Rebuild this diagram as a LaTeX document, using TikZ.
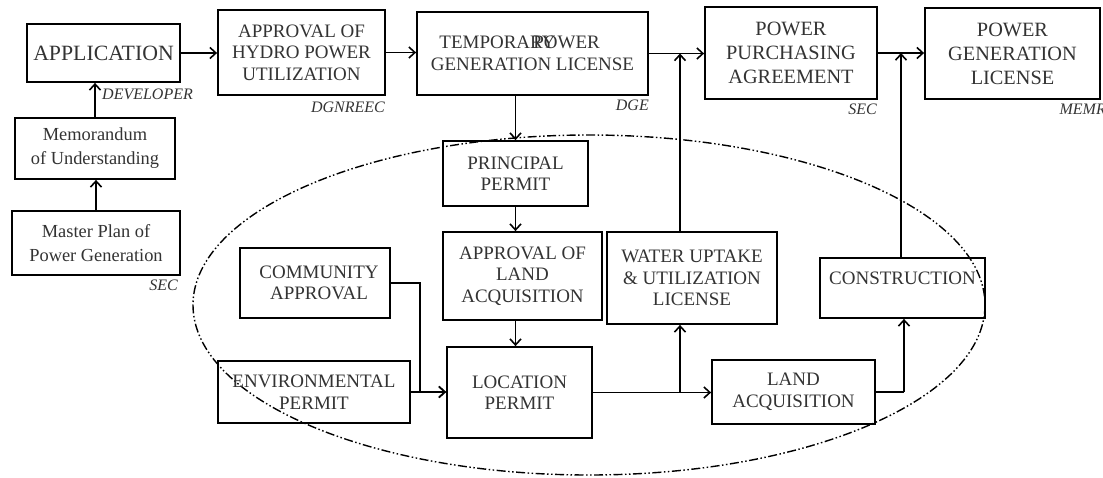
\documentclass[tikz,border=0pt]{standalone}
\usepackage{fontspec}
\setmainfont{Liberation Serif}
\usetikzlibrary{arrows.meta}
\definecolor{txt}{HTML}{333333}
\begin{document}
\begin{tikzpicture}[x=1pt,y=-1pt,
  box/.style={draw=black,line width=1.8pt,inner sep=0pt,align=center,text=txt,
    font=\fontsize{19}{21.5}\selectfont},
  bigbox/.style={box,font=\fontsize{20.3}{24}\selectfont},
  lbl/.style={inner sep=0pt,text=txt,font=\fontsize{16}{18}\selectfont\itshape},
  arr/.style={line width=1.7pt,-{Straight Barb[length=6pt,width=11pt,line width=1.6pt]}},
  ln/.style={line width=1.7pt},
  oval/.style={line width=1.4pt,dash pattern=on 9pt off 2.5pt on 1.5pt off 2.5pt on 1.5pt off 2.5pt}]
\useasboundingbox (0,0) rectangle (1103,477);
% ellipse
\draw[oval] (589,305) ellipse [x radius=396, y radius=170];
% boxes
\node[box,minimum width=153pt,minimum height=58pt,font=\fontsize{21.8}{24}\selectfont] (app) at (103.5,53) {APPLICATION};
\node[box,minimum width=167pt,minimum height=85pt] (ahp) at (301.5,52.5) {APPROVAL OF\\HYDRO POWER\\UTILIZATION};
\node[box,minimum width=231pt,minimum height=83pt,align=left] (tpg) at (532.5,53.5) {\hspace{8.5pt}\makebox[94pt][l]{TEMPORARY}POWER\\GENERATION LICENSE};
\node[bigbox,minimum width=172pt,minimum height=92pt] (ppa) at (791,53) {POWER\\PURCHASING\\AGREEMENT};
\node[bigbox,minimum width=175pt,minimum height=91pt] (pgl) at (1012.5,53.5) {POWER\\GENERATION\\LICENSE};
\node[box,minimum width=160pt,minimum height=61pt,font=\fontsize{18.4}{24}\selectfont] (mou) at (95,148.5) {Memorandum\\of Understanding};
\node[box,minimum width=168pt,minimum height=64pt,font=\fontsize{18.4}{24}\selectfont] (mpg) at (96,243) {Master Plan of\\Power Generation};
\node[box,minimum width=145pt,minimum height=65pt] (pp) at (515.5,173.5) {PRINCIPAL\\PERMIT};
\node[box,minimum width=159pt,minimum height=88pt] (ala) at (522.5,276) {APPROVAL OF\\LAND\\ACQUISITION};
\node[box,minimum width=145pt,minimum height=91pt] (loc) at (519.5,392.5) {LOCATION\\PERMIT};
\node[box,minimum width=150pt,minimum height=70pt] (com) at (315,283) {\hspace{8pt}COMMUNITY\\\hspace{8pt}APPROVAL};
\node[box,minimum width=192pt,minimum height=62pt] (env) at (314,392) {ENVIRONMENTAL\\PERMIT};
\node[box,minimum width=170pt,minimum height=92pt] (wat) at (692,278) {WATER UPTAKE\\\&\ UTILIZATION\\LICENSE};
\node[box,minimum width=163pt,minimum height=64pt] (lac) at (793.5,392) {LAND\\ACQUISITION};
\node[box,minimum width=165pt,minimum height=60pt] (con) at (902.5,288) {CONSTRUCTION\\[-2pt]\phantom{X}};
% labels
\node[lbl,anchor=west] (l1) at (102,94) {DEVELOPER};
\node[lbl,anchor=east] (l2) at (385,107) {DGNREEC};
\node[lbl,anchor=east] (l3) at (649,105) {DGE};
\node[lbl,anchor=east] (l4) at (877,109) {SEC};
\node[lbl,anchor=east] (l5) at (1106,109) {MEMR};
\node[lbl,anchor=east] (l6) at (178,285) {SEC};
% junction coordinates
\coordinate (j1) at (420,392);
\coordinate (j2) at (680,392);
\coordinate (j3) at (904,392);
% connectors
\draw[arr] (mpg.north) -- (mpg.north |- mou.south);
\draw[arr] (mou.north) -- (mou.north |- app.south);
\draw[arr] (app.east) -- (app.east -| ahp.west);
\draw[arr] (ahp.east) -- (ahp.east -| tpg.west);
\draw[arr] (tpg.east) -- (tpg.east -| ppa.west);
\draw[arr] (ppa.east) -- (ppa.east -| pgl.west);
\draw[arr] (pp.north |- tpg.south) -- (pp.north);
\draw[arr] (pp.south) -- (pp.south |- ala.north);
\draw[arr] (pp.south |- ala.south) -- (pp.south |- loc.north);
\draw[ln] (com.east) -| (j1);
\draw[arr] (env.east) -- (env.east -| loc.west);
\draw[arr] (j1) -- (j1 -| loc.west);
\draw[arr] (loc.east) -- (loc.east -| lac.west);
\draw[arr] (j2) -- (j2 |- wat.south);
\draw[arr] (j2 |- wat.north) -- (j2 |- tpg.east);
\draw[ln] (lac.east) -- (j3);
\draw[arr] (j3) -- (j3 |- con.south);
\draw[arr] (con.north -| 901,0) -- (901,0 |- ppa.east);
\end{tikzpicture}
\end{document}
